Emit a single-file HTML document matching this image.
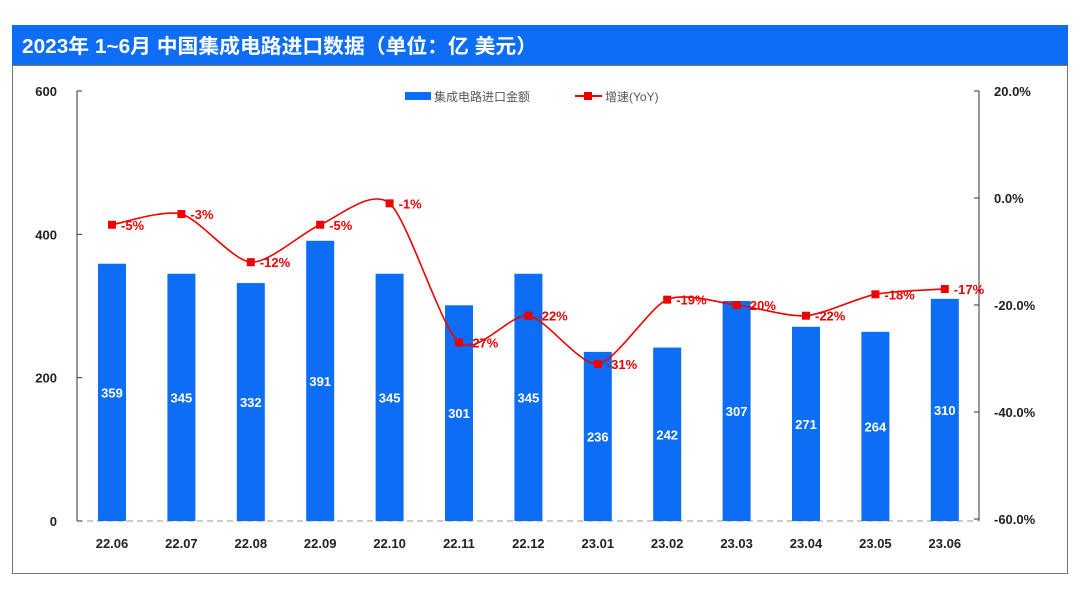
<!DOCTYPE html>
<html><head><meta charset="utf-8"><style>
body{margin:0;background:#fff;width:1080px;height:604px;overflow:hidden;font-family:"Liberation Sans","Noto Sans CJK SC",sans-serif}
</style></head><body>
<svg width="1080" height="604" xmlns="http://www.w3.org/2000/svg">
<rect x="12" y="25" width="1056" height="40" fill="#0d6ef5"/>
<text x="22" y="53" font-size="20" font-weight="bold" fill="#fff" textLength="515" lengthAdjust="spacingAndGlyphs" font-family="Liberation Sans,Noto Sans CJK SC,sans-serif">2023年 1~6月 中国集成电路进口数据（单位：亿 美元）</text>
<rect x="12.5" y="65.5" width="1055" height="508" fill="none" stroke="#777"/>
<g id="axes"></g><g id="bars"></g><g id="line"></g>
<g>
<rect x="405" y="92" width="26" height="8" fill="#0d6ef5"/>
<text x="434" y="101" font-size="12" fill="#555">集成电路进口金额</text>
<line x1="575" y1="96" x2="602" y2="96" stroke="#e00" stroke-width="2"/>
<rect x="584" y="92" width="8" height="8" fill="#e00"/>
<text x="605" y="101" font-size="12" fill="#555">增速(YoY)</text>
</g>
</svg>
<script>
const categories=["22.06","22.07","22.08","22.09","22.10","22.11","22.12","23.01","23.02","23.03","23.04","23.05","23.06"];
const amounts=[359,345,332,391,345,301,345,236,242,307,271,264,310];
const growth=[-5,-3,-12,-5,-1,-27,-22,-31,-19,-20,-22,-18,-17];
const leftTicks=[0,200,400,600];
const rightTicks=[20,0,-20,-40,-60];
const NS="http://www.w3.org/2000/svg";
const x=i=>112+i*69.4;
const yL=v=>521-v*(430/600);
const yR=v=>91+(20-v)*(428/80);
function mk(p,t,a){const e=document.createElementNS(NS,t);for(const k in a)e.setAttribute(k,a[k]);p.appendChild(e);return e;}
const ax=document.getElementById('axes');
let l=mk(ax,'line',{x1:77,y1:91,x2:77,y2:521,stroke:'#333'});


l=mk(ax,'line',{x1:979,y1:91,x2:979,y2:521,stroke:'#333'});


l=mk(ax,'line',{x1:77,y1:521,x2:979,y2:521,stroke:'#999','stroke-dasharray':'6 4'});


leftTicks.forEach(v=>{const t=mk(ax,'text',{x:57,y:yL(v)+5,'font-size':13,'font-weight':'bold','text-anchor':'end',fill:'#222'});t.textContent=v;


mk(ax,'line',{x1:77,y1:yL(v),x2:82,y2:yL(v),stroke:'#333'});});
rightTicks.forEach(v=>{const t=mk(ax,'text',{x:994,y:yR(v)+5,'font-size':13,'font-weight':'bold',fill:'#222'});t.textContent=v.toFixed(1)+'%';


mk(ax,'line',{x1:974,y1:yR(v),x2:979,y2:yR(v),stroke:'#333'});});
categories.forEach((c,i)=>{const t=mk(ax,'text',{x:x(i),y:548,'font-size':13,'font-weight':'bold','text-anchor':'middle',fill:'#222'});t.textContent=c;

});
const bg=document.getElementById('bars');
amounts.forEach((v,i)=>{const r=mk(bg,'rect',{x:x(i)-14,y:yL(v),width:28,height:521-yL(v),fill:'#0d6ef5'});


const t=mk(bg,'text',{x:x(i),y:(yL(v)+521)/2+5,'font-size':13,'font-weight':'bold','text-anchor':'middle',fill:'#fff'});t.textContent=v;

});
const lg=document.getElementById('line');
const pts=growth.map((v,i)=>[x(i),yR(v)]);
let d='M'+pts[0];
for(let i=0;i<pts.length-1;i++){const p0=pts[i-1]||pts[i],p1=pts[i],p2=pts[i+1],p3=pts[i+2]||p2;const k=0.13;
d+=` C${p1[0]+(p2[0]-p0[0])*k},${p1[1]+(p2[1]-p0[1])*k} ${p2[0]-(p3[0]-p1[0])*k},${p2[1]-(p3[1]-p1[1])*k} ${p2[0]},${p2[1]}`;}
const pa=mk(lg,'path',{d:d,fill:'none',stroke:'#e00','stroke-width':1.6});


growth.forEach((v,i)=>{const m=mk(lg,'rect',{x:x(i)-4,y:yR(v)-4,width:8,height:8,fill:'#e00'});


const t=mk(lg,'text',{x:x(i)+9,y:yR(v)+5,'font-size':13,'font-weight':'bold',fill:'#e00'});t.textContent=v+'%';

});
</script>
</body></html>
